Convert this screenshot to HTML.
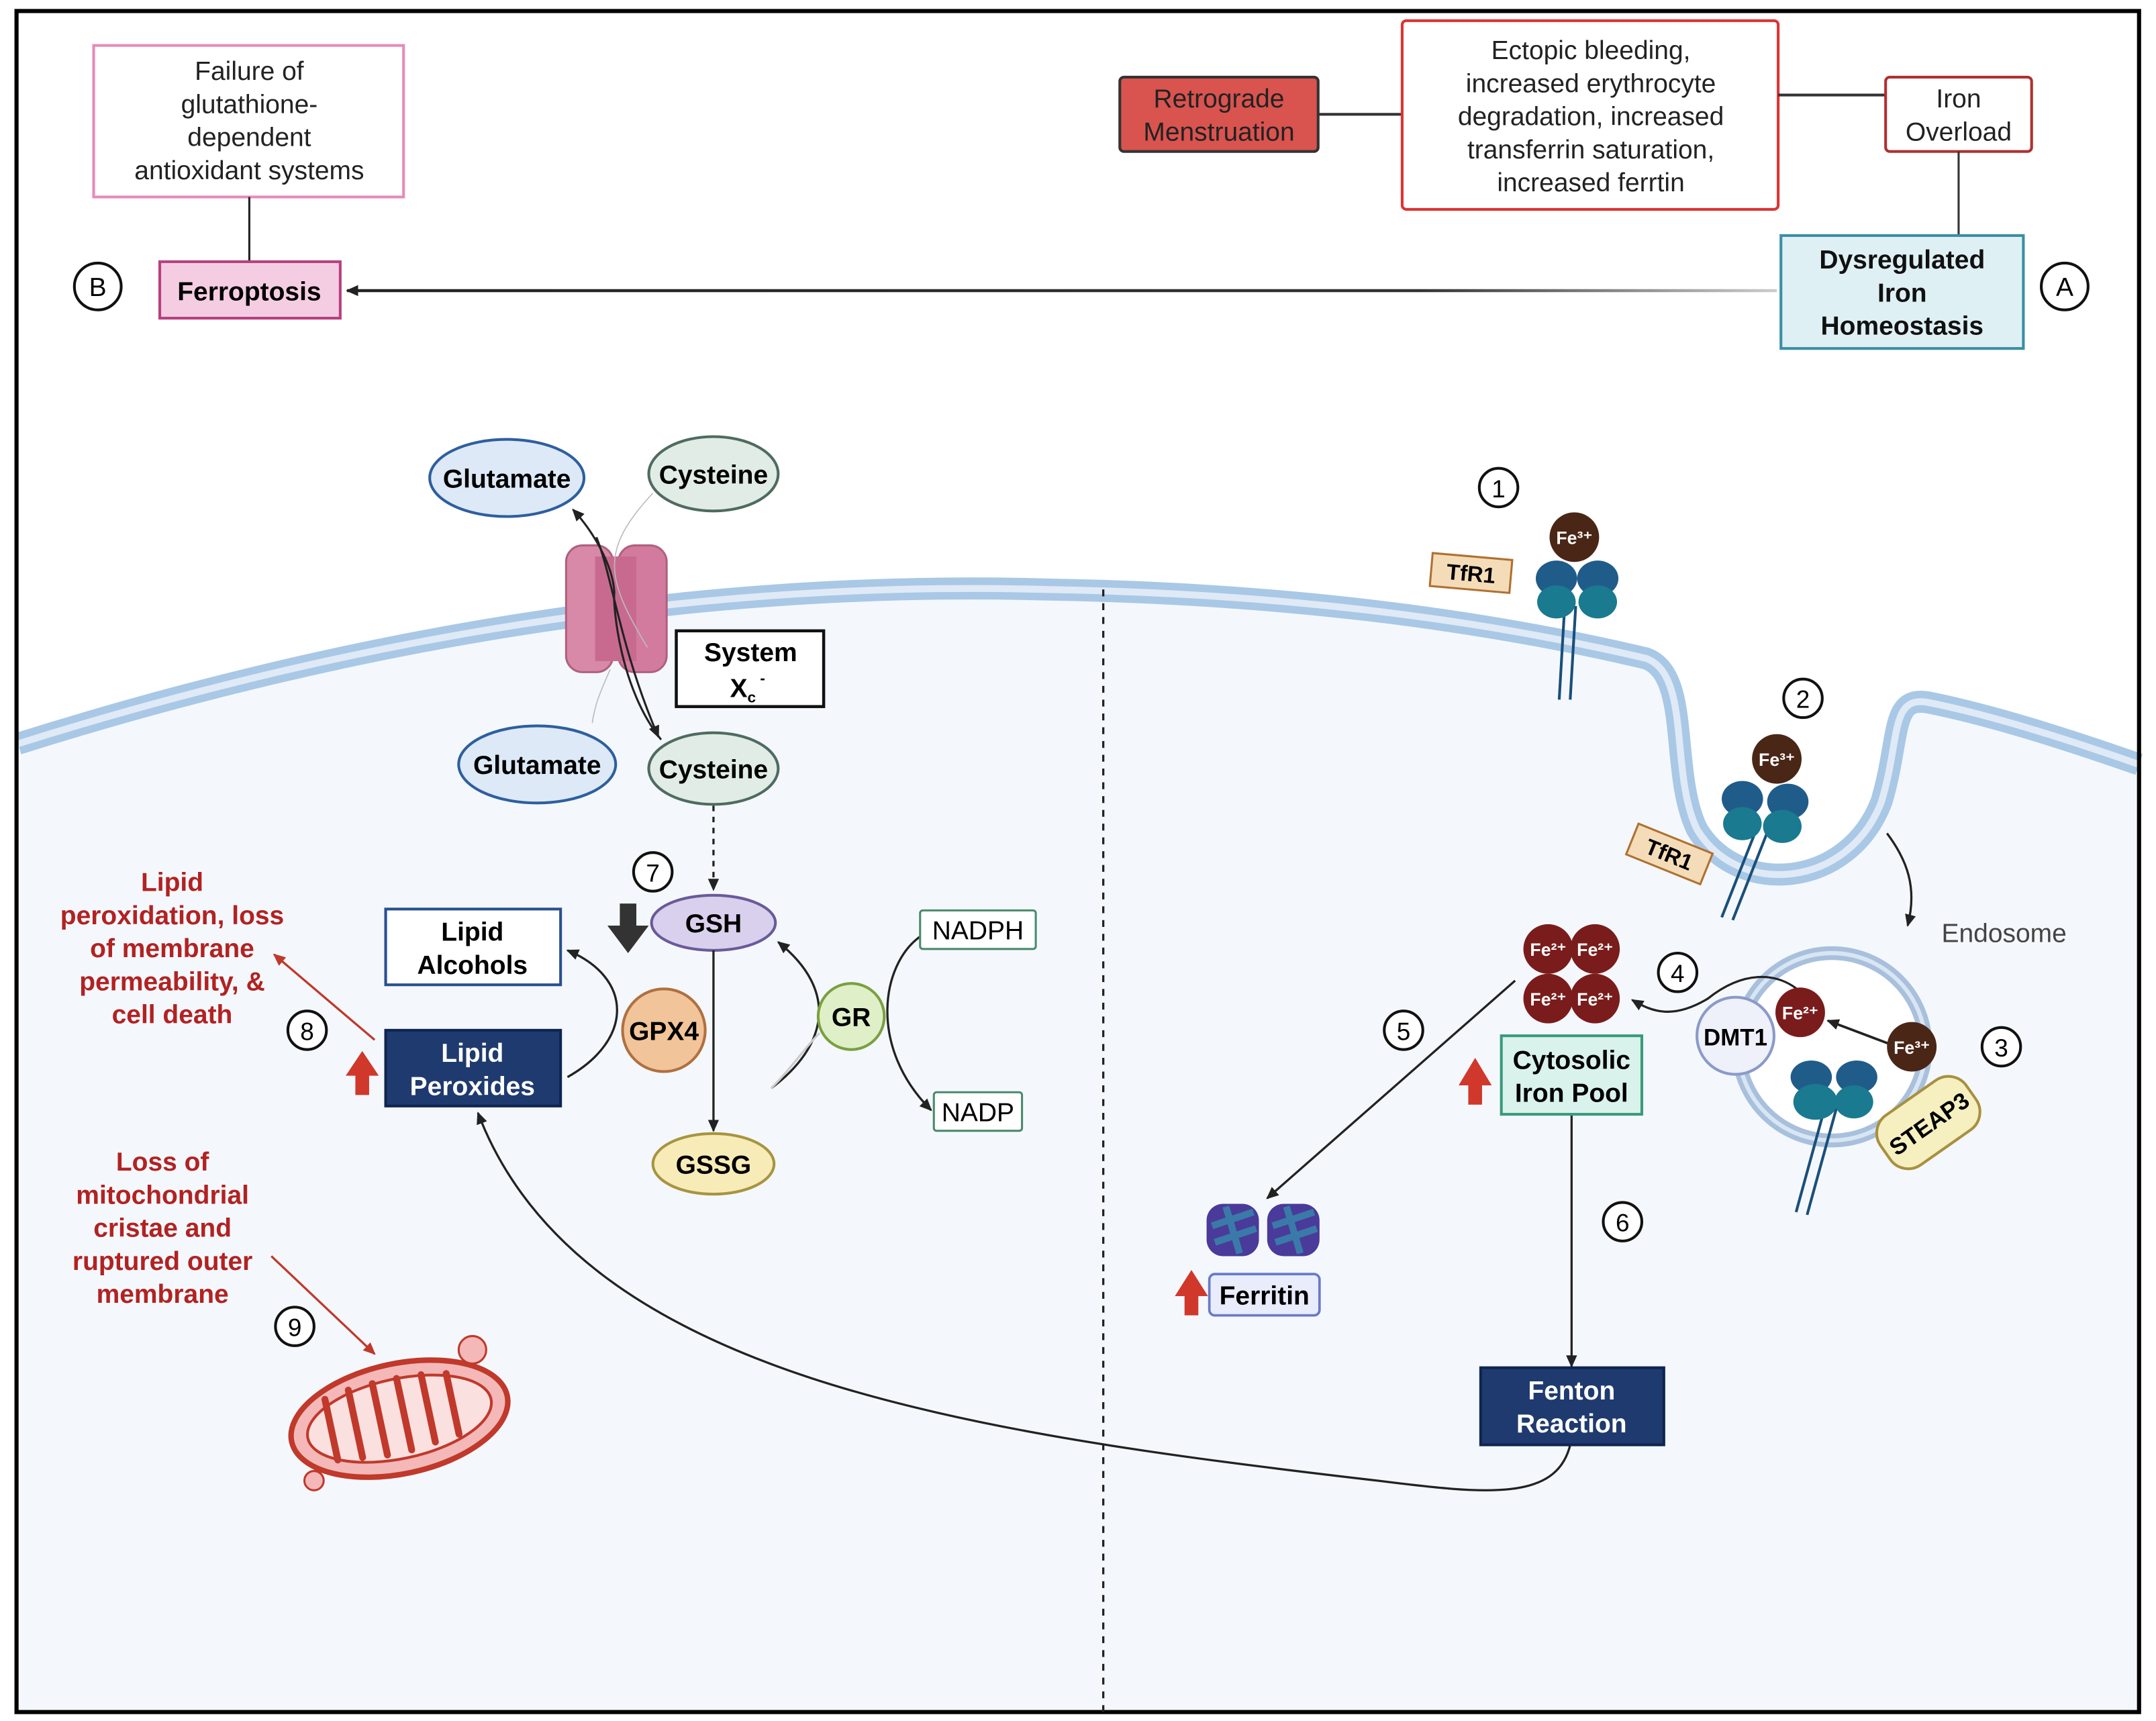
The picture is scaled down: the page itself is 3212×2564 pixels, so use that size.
<!DOCTYPE html>
<html><head><meta charset="utf-8"><style>
html,body{margin:0;padding:0;background:#fff}
svg{display:block}
text{font-family:"Liberation Sans",Arial,sans-serif}
</style></head><body>
<svg width="3212" height="2564" viewBox="0 0 1565.3 1249.5" preserveAspectRatio="none" xmlns="http://www.w3.org/2000/svg">
<defs>
<marker id="ah" markerWidth="10" markerHeight="10" refX="8" refY="5" orient="auto" markerUnits="userSpaceOnUse"><path d="M0,1 L9,5 L0,9 Z" fill="#222"/></marker>
<marker id="ar" markerWidth="10" markerHeight="10" refX="8" refY="5" orient="auto" markerUnits="userSpaceOnUse"><path d="M0,1 L9,5 L0,9 Z" fill="#c0392b"/></marker>
<linearGradient id="fade" gradientUnits="userSpaceOnUse" x1="252" y1="211" x2="1290" y2="211"><stop offset="0" stop-color="#222"/><stop offset="0.75" stop-color="#333"/><stop offset="1" stop-color="#ccc"/></linearGradient>
</defs>
<rect x="0" y="0" width="1565.3" height="1249.5" fill="#fff"/>
<path d="M13 540 Q 400 418 760 428 Q 1000 432 1195 478 C 1228 490 1212 560 1232 602 C 1262 652 1342 645 1366 582 C 1380 535 1372 505 1400 510 C 1450 520 1510 540 1553 555 L1553 1243 L13 1243 Z" fill="#f4f8fc"/>
<path d="M13 540 Q 400 418 760 428 Q 1000 432 1195 478 C 1228 490 1212 560 1232 602 C 1262 652 1342 645 1366 582 C 1380 535 1372 505 1400 510 C 1450 520 1510 540 1553 555" fill="none" stroke="#a9c8e6" stroke-width="16"/>
<path d="M13 540 Q 400 418 760 428 Q 1000 432 1195 478 C 1228 490 1212 560 1232 602 C 1262 652 1342 645 1366 582 C 1380 535 1372 505 1400 510 C 1450 520 1510 540 1553 555" fill="none" stroke="#dfeaf6" stroke-width="5"/>
<rect x="12" y="8" width="1541" height="1235" fill="none" stroke="#000" stroke-width="3"/>
<line x1="801" y1="428" x2="801" y2="1243" stroke="#222" stroke-width="1.6" stroke-dasharray="5,5"/>

<rect x="68" y="33" width="225" height="110" fill="#fff" stroke="#e88ab8" stroke-width="2"/>
<g font-size="19" text-anchor="middle" fill="#222">
<text x="181" y="58">Failure of</text><text x="181" y="82">glutathione-</text><text x="181" y="106">dependent</text><text x="181" y="130">antioxidant systems</text>
</g>
<line x1="181" y1="143" x2="181" y2="190" stroke="#222" stroke-width="1.5"/>
<rect x="116" y="190" width="131" height="41" fill="#f5cde3" stroke="#b8407e" stroke-width="2"/>
<text x="181" y="218" font-size="19" font-weight="bold" text-anchor="middle">Ferroptosis</text>
<circle cx="71" cy="208" r="17" fill="#fff" stroke="#111" stroke-width="2"/><text x="71" y="215" font-size="19" text-anchor="middle">B</text>
<line x1="1290" y1="211" x2="252" y2="211" stroke="url(#fade)" stroke-width="2.2" marker-end="url(#ah)"/>

<rect x="813" y="56" width="144" height="54" fill="#d9534f" stroke="#333" stroke-width="2" rx="3"/>
<g font-size="19" text-anchor="middle" fill="#222"><text x="885" y="78">Retrograde</text><text x="885" y="102">Menstruation</text></g>
<line x1="957" y1="83" x2="1018" y2="83" stroke="#333" stroke-width="2"/>
<rect x="1018" y="15" width="273" height="137" fill="#fff" stroke="#d33" stroke-width="2" rx="3"/>
<g font-size="19" text-anchor="middle" fill="#222">
<text x="1155" y="43">Ectopic bleeding,</text><text x="1155" y="67">increased erythrocyte</text><text x="1155" y="91">degradation, increased</text><text x="1155" y="115">transferrin saturation,</text><text x="1155" y="139">increased ferrtin</text>
</g>
<line x1="1291" y1="69" x2="1369" y2="69" stroke="#333" stroke-width="2"/>
<rect x="1369" y="56" width="106" height="54" fill="#fff" stroke="#b03030" stroke-width="2" rx="3"/>
<g font-size="19" text-anchor="middle" fill="#222"><text x="1422" y="78">Iron</text><text x="1422" y="102">Overload</text></g>
<line x1="1422" y1="110" x2="1422" y2="171" stroke="#333" stroke-width="1.5"/>
<rect x="1293" y="171" width="176" height="82" fill="#dff0f5" stroke="#3a8fa5" stroke-width="2"/>
<g font-size="19" font-weight="bold" text-anchor="middle" fill="#111"><text x="1381" y="195">Dysregulated</text><text x="1381" y="219">Iron</text><text x="1381" y="243">Homeostasis</text></g>
<circle cx="1499" cy="208" r="17" fill="#fff" stroke="#111" stroke-width="2"/><text x="1499" y="215" font-size="19" text-anchor="middle">A</text>

<rect x="411" y="396" width="34" height="92" rx="12" fill="#d989a8" stroke="#b0607e" stroke-width="1.5"/>
<rect x="449" y="396" width="35" height="92" rx="12" fill="#d37b9e" stroke="#b0607e" stroke-width="1.5"/>
<rect x="432" y="404" width="30" height="76" fill="#c86a90"/>
<path d="M474 358 C 435 400 440 420 470 470" fill="none" stroke="#bbb" stroke-width="0.8"/>
<path d="M443 486 C 437 500 432 510 430 525" fill="none" stroke="#bbb" stroke-width="0.8"/>
<path d="M480 537 C 450 500 445 440 446 430 C 445 410 430 385 416 370" fill="none" stroke="#222" stroke-width="1.5" marker-end="url(#ah)"/>
<path d="M433 390 C 445 420 450 470 478 535" fill="none" stroke="#222" stroke-width="1.5" marker-end="url(#ah)"/>
<ellipse cx="368" cy="347" rx="56" ry="28" fill="#dde9f7" stroke="#2e5f9e" stroke-width="2"/>
<text x="368" y="354" font-size="19" font-weight="bold" text-anchor="middle">Glutamate</text>
<ellipse cx="518" cy="344" rx="47" ry="27" fill="#e1ece6" stroke="#4f6b60" stroke-width="2"/>
<text x="518" y="351" font-size="19" font-weight="bold" text-anchor="middle">Cysteine</text>
<rect x="491" y="458" width="107" height="55" fill="#fff" stroke="#111" stroke-width="2.2"/>
<text x="545" y="480" font-size="19" font-weight="bold" text-anchor="middle">System</text>
<text x="530" y="506" font-size="19" font-weight="bold">X<tspan font-size="11" dy="4">c</tspan><tspan font-size="11" dy="-14"> -</tspan></text>
<ellipse cx="390" cy="555" rx="57" ry="28" fill="#dde9f7" stroke="#2e5f9e" stroke-width="2"/>
<text x="390" y="562" font-size="19" font-weight="bold" text-anchor="middle">Glutamate</text>
<ellipse cx="518" cy="558" rx="47" ry="26" fill="#e1ece6" stroke="#4f6b60" stroke-width="2"/>
<text x="518" y="565" font-size="19" font-weight="bold" text-anchor="middle">Cysteine</text>
<line x1="518" y1="585" x2="518" y2="646" stroke="#222" stroke-width="1.6" stroke-dasharray="4,4" marker-end="url(#ah)"/>
<circle cx="474" cy="633" r="14" fill="#fff" stroke="#111" stroke-width="2"/><text x="474" y="640" font-size="18" text-anchor="middle">7</text>
<path d="M450 656 L462 656 L462 672 L471 672 L456 692 L441 672 L450 672 Z" fill="#333"/>
<ellipse cx="518" cy="670" rx="45" ry="20" fill="#d8d0ec" stroke="#6a5a9a" stroke-width="2"/>
<text x="518" y="677" font-size="19" font-weight="bold" text-anchor="middle">GSH</text>
<line x1="518" y1="690" x2="518" y2="821" stroke="#222" stroke-width="1.6" marker-end="url(#ah)"/>
<ellipse cx="518" cy="845" rx="44" ry="22" fill="#f7ecb8" stroke="#a89440" stroke-width="2"/>
<text x="518" y="852" font-size="19" font-weight="bold" text-anchor="middle">GSSG</text>
<path d="M560 790 C 600 760 610 720 565 684" fill="none" stroke="#222" stroke-width="1.6" marker-end="url(#ah)"/>
<path d="M560 790 C 575 775 585 760 595 750" fill="none" stroke="#ccc" stroke-width="1.6"/>
<path d="M668 680 C 640 700 630 760 676 806" fill="none" stroke="#222" stroke-width="1.6" marker-end="url(#ah)"/>
<circle cx="618" cy="738" r="24" fill="#dff0c8" stroke="#7aa040" stroke-width="2"/>
<text x="618" y="745" font-size="19" font-weight="bold" text-anchor="middle">GR</text>
<rect x="668" y="661" width="84" height="28" fill="#fff" stroke="#4a8a6a" stroke-width="1.5" rx="2"/>
<text x="710" y="682" font-size="19" text-anchor="middle">NADPH</text>
<rect x="678" y="793" width="64" height="28" fill="#fff" stroke="#4a8a6a" stroke-width="1.5" rx="2"/>
<text x="710" y="814" font-size="19" text-anchor="middle">NADP</text>
<path d="M412 782 C 460 755 460 710 412 690" fill="none" stroke="#222" stroke-width="1.6" marker-end="url(#ah)"/>
<circle cx="482" cy="748" r="30" fill="#f2c49a" stroke="#b07040" stroke-width="2"/>
<text x="482" y="755" font-size="19" font-weight="bold" text-anchor="middle">GPX4</text>
<rect x="280" y="660" width="127" height="55" fill="#fff" stroke="#2a4f8f" stroke-width="2"/>
<g font-size="19" font-weight="bold" text-anchor="middle"><text x="343" y="683">Lipid</text><text x="343" y="707">Alcohols</text></g>
<rect x="280" y="748" width="127" height="55" fill="#1f3a6e" stroke="#0f2550" stroke-width="2"/>
<g font-size="19" font-weight="bold" text-anchor="middle" fill="#fff"><text x="343" y="771">Lipid</text><text x="343" y="795">Peroxides</text></g>
<path d="M258 795 L268 795 L268 781 L275 781 L263 763 L251 781 L258 781 Z" fill="#d0382b"/>
<circle cx="223" cy="748" r="14" fill="#fff" stroke="#111" stroke-width="2"/><text x="223" y="755" font-size="18" text-anchor="middle">8</text>
<line x1="272" y1="755" x2="199" y2="693" stroke="#c0392b" stroke-width="1.6" marker-end="url(#ar)"/>
<g font-size="19" font-weight="bold" text-anchor="middle" fill="#b22222">
<text x="125" y="647">Lipid</text><text x="125" y="671">peroxidation, loss</text><text x="125" y="695">of membrane</text><text x="125" y="719">permeability, &amp;</text><text x="125" y="743">cell death</text>
<text x="118" y="850">Loss of</text><text x="118" y="874">mitochondrial</text><text x="118" y="898">cristae and</text><text x="118" y="922">ruptured outer</text><text x="118" y="946">membrane</text>
</g>
<circle cx="214" cy="963" r="14" fill="#fff" stroke="#111" stroke-width="2"/><text x="214" y="970" font-size="18" text-anchor="middle">9</text>
<line x1="197" y1="912" x2="272" y2="983" stroke="#c0392b" stroke-width="1.6" marker-end="url(#ar)"/>
<g transform="translate(290,1030) rotate(-12)">
<ellipse rx="80" ry="40" fill="#f4b8b8" stroke="#c0392b" stroke-width="4"/>
<ellipse rx="68" ry="29" fill="#fbe0e0" stroke="#c0392b" stroke-width="2"/>
<path d="M-50 -25 L-50 20 M-32 -28 L-32 22 M-14 -29 L-14 24 M4 -29 L4 24 M22 -28 L22 22 M40 -25 L40 20" stroke="#c0392b" stroke-width="5" stroke-linecap="round"/>
</g>
<circle cx="343" cy="980" r="10" fill="#f4b8b8" stroke="#c0392b" stroke-width="1.5"/>
<circle cx="228" cy="1075" r="7" fill="#f4b8b8" stroke="#c0392b" stroke-width="1.5"/>
<path d="M1140 1049 C 1130 1090 1080 1085 1000 1075 C 700 1040 420 1000 347 808" fill="none" stroke="#222" stroke-width="1.6" marker-end="url(#ah)"/>

<circle cx="1088" cy="354" r="14" fill="#fff" stroke="#111" stroke-width="2"/><text x="1088" y="361" font-size="18" text-anchor="middle">1</text>
<g transform="translate(1068,416) rotate(5)"><rect x="-29" y="-12" width="58" height="24" fill="#f5dcb8" stroke="#b07030" stroke-width="1.5"/><text y="6" font-size="16" font-weight="bold" text-anchor="middle">TfR1</text></g>
<line x1="1136" y1="440" x2="1132" y2="508" stroke="#1a4f7a" stroke-width="2"/><line x1="1144" y1="440" x2="1140" y2="508" stroke="#1a4f7a" stroke-width="2"/>
<ellipse cx="1130" cy="420" rx="15" ry="13" fill="#205c8a"/><ellipse cx="1160" cy="420" rx="15" ry="13" fill="#205c8a"/>
<ellipse cx="1130" cy="437" rx="14" ry="12" fill="#1a7a8f"/><ellipse cx="1160" cy="437" rx="14" ry="12" fill="#1a7a8f"/>
<circle cx="1143" cy="390" r="18" fill="#4a2616"/><text x="1143" y="395" font-size="13" font-weight="bold" fill="#fff" text-anchor="middle">Fe³⁺</text>
<circle cx="1309" cy="507" r="14" fill="#fff" stroke="#111" stroke-width="2"/><text x="1309" y="514" font-size="18" text-anchor="middle">2</text>
<line x1="1276" y1="600" x2="1250" y2="666" stroke="#1a4f7a" stroke-width="2"/><line x1="1284" y1="602" x2="1258" y2="668" stroke="#1a4f7a" stroke-width="2"/>
<ellipse cx="1265" cy="580" rx="15" ry="13" fill="#205c8a"/><ellipse cx="1298" cy="582" rx="15" ry="13" fill="#205c8a"/>
<ellipse cx="1265" cy="598" rx="14" ry="12" fill="#1a7a8f"/><ellipse cx="1294" cy="600" rx="14" ry="12" fill="#1a7a8f"/>
<circle cx="1290" cy="551" r="18" fill="#4a2616"/><text x="1290" y="556" font-size="13" font-weight="bold" fill="#fff" text-anchor="middle">Fe³⁺</text>
<g transform="translate(1212,620) rotate(22)"><rect x="-29" y="-12" width="58" height="24" fill="#f5dcb8" stroke="#b07030" stroke-width="1.5"/><text y="6" font-size="16" font-weight="bold" text-anchor="middle">TfR1</text></g>
<path d="M1370 605 C 1385 625 1392 645 1385 672" fill="none" stroke="#222" stroke-width="1.6" marker-end="url(#ah)"/>
<circle cx="1330" cy="760" r="68" fill="#fff" stroke="#a9c0dc" stroke-width="10"/>
<circle cx="1330" cy="760" r="68" fill="none" stroke="#d8e5f3" stroke-width="3"/>
<text x="1455" y="684" font-size="19" text-anchor="middle" fill="#444">Endosome</text>
<line x1="1326" y1="800" x2="1304" y2="880" stroke="#1a4f7a" stroke-width="2"/><line x1="1334" y1="802" x2="1312" y2="882" stroke="#1a4f7a" stroke-width="2"/>
<ellipse cx="1315" cy="782" rx="15" ry="12" fill="#205c8a"/><ellipse cx="1348" cy="782" rx="15" ry="12" fill="#205c8a"/>
<ellipse cx="1318" cy="800" rx="16" ry="13" fill="#1a7a8f"/><ellipse cx="1346" cy="800" rx="14" ry="12" fill="#1a7a8f"/>
<g transform="translate(1400,815) rotate(-35)"><rect x="-38" y="-22" width="76" height="44" rx="16" fill="#f6f0c0" stroke="#a89040" stroke-width="2"/><text y="7" font-size="17" font-weight="bold" text-anchor="middle">STEAP3</text></g>
<circle cx="1260" cy="752" r="28" fill="#eef0fa" stroke="#8a9ac8" stroke-width="2"/>
<text x="1260" y="759" font-size="17" font-weight="bold" text-anchor="middle">DMT1</text>
<line x1="1372" y1="758" x2="1327" y2="741" stroke="#222" stroke-width="1.8" marker-end="url(#ah)"/>
<path d="M1307 720 C 1290 705 1265 705 1240 725 C 1215 740 1200 735 1185 726" fill="none" stroke="#222" stroke-width="1.6" marker-end="url(#ah)"/>
<circle cx="1307" cy="735" r="18" fill="#7a1c1c"/><text x="1307" y="740" font-size="13" font-weight="bold" fill="#fff" text-anchor="middle">Fe²⁺</text>
<circle cx="1388" cy="760" r="18" fill="#4a2616"/><text x="1388" y="765" font-size="13" font-weight="bold" fill="#fff" text-anchor="middle">Fe³⁺</text>
<circle cx="1453" cy="760" r="14" fill="#fff" stroke="#111" stroke-width="2"/><text x="1453" y="767" font-size="18" text-anchor="middle">3</text>
<circle cx="1218" cy="706" r="14" fill="#fff" stroke="#111" stroke-width="2"/><text x="1218" y="713" font-size="18" text-anchor="middle">4</text>
<g font-size="13" font-weight="bold" fill="#fff" text-anchor="middle">
<circle cx="1124" cy="689" r="18" fill="#7a1c1c"/><text x="1124" y="694">Fe²⁺</text>
<circle cx="1158" cy="689" r="18" fill="#7a1c1c"/><text x="1158" y="694">Fe²⁺</text>
<circle cx="1124" cy="725" r="18" fill="#7a1c1c"/><text x="1124" y="730">Fe²⁺</text>
<circle cx="1158" cy="725" r="18" fill="#7a1c1c"/><text x="1158" y="730">Fe²⁺</text>
</g>
<rect x="1090" y="752" width="102" height="57" fill="#d9f2ec" stroke="#3a9a7a" stroke-width="2"/>
<g font-size="19" font-weight="bold" text-anchor="middle"><text x="1141" y="776">Cytosolic</text><text x="1141" y="800">Iron Pool</text></g>
<path d="M1066 802 L1076 802 L1076 788 L1083 788 L1071 768 L1059 788 L1066 788 Z" fill="#d0382b"/>
<circle cx="1019" cy="748" r="14" fill="#fff" stroke="#111" stroke-width="2"/><text x="1019" y="755" font-size="18" text-anchor="middle">5</text>
<line x1="1100" y1="712" x2="920" y2="870" stroke="#222" stroke-width="1.6" marker-end="url(#ah)"/>
<circle cx="1178" cy="887" r="14" fill="#fff" stroke="#111" stroke-width="2"/><text x="1178" y="894" font-size="18" text-anchor="middle">6</text>
<line x1="1141" y1="810" x2="1141" y2="992" stroke="#222" stroke-width="1.6" marker-end="url(#ah)"/>
<rect x="1075" y="993" width="133" height="56" fill="#1f3a6e" stroke="#0f2550" stroke-width="2"/>
<g font-size="19" font-weight="bold" text-anchor="middle" fill="#fff"><text x="1141" y="1016">Fenton</text><text x="1141" y="1040">Reaction</text></g>
<g>
<rect x="876" y="874" width="38" height="38" rx="12" fill="#4a3a9a"/><path d="M880 890 L910 880 M882 902 L912 892 M890 876 L900 910" stroke="#3a7aa8" stroke-width="5"/>
<rect x="920" y="874" width="38" height="38" rx="12" fill="#4a3a9a"/><path d="M924 890 L954 880 M926 902 L956 892 M934 876 L944 910" stroke="#3a7aa8" stroke-width="5"/>
</g>
<rect x="878" y="925" width="80" height="30" rx="4" fill="#e8ecfb" stroke="#6a7ac8" stroke-width="1.8"/>
<text x="918" y="947" font-size="19" font-weight="bold" text-anchor="middle">Ferritin</text>
<path d="M860 955 L870 955 L870 941 L877 941 L865 922 L853 941 L860 941 Z" fill="#d0382b"/>
</svg>
</body></html>
